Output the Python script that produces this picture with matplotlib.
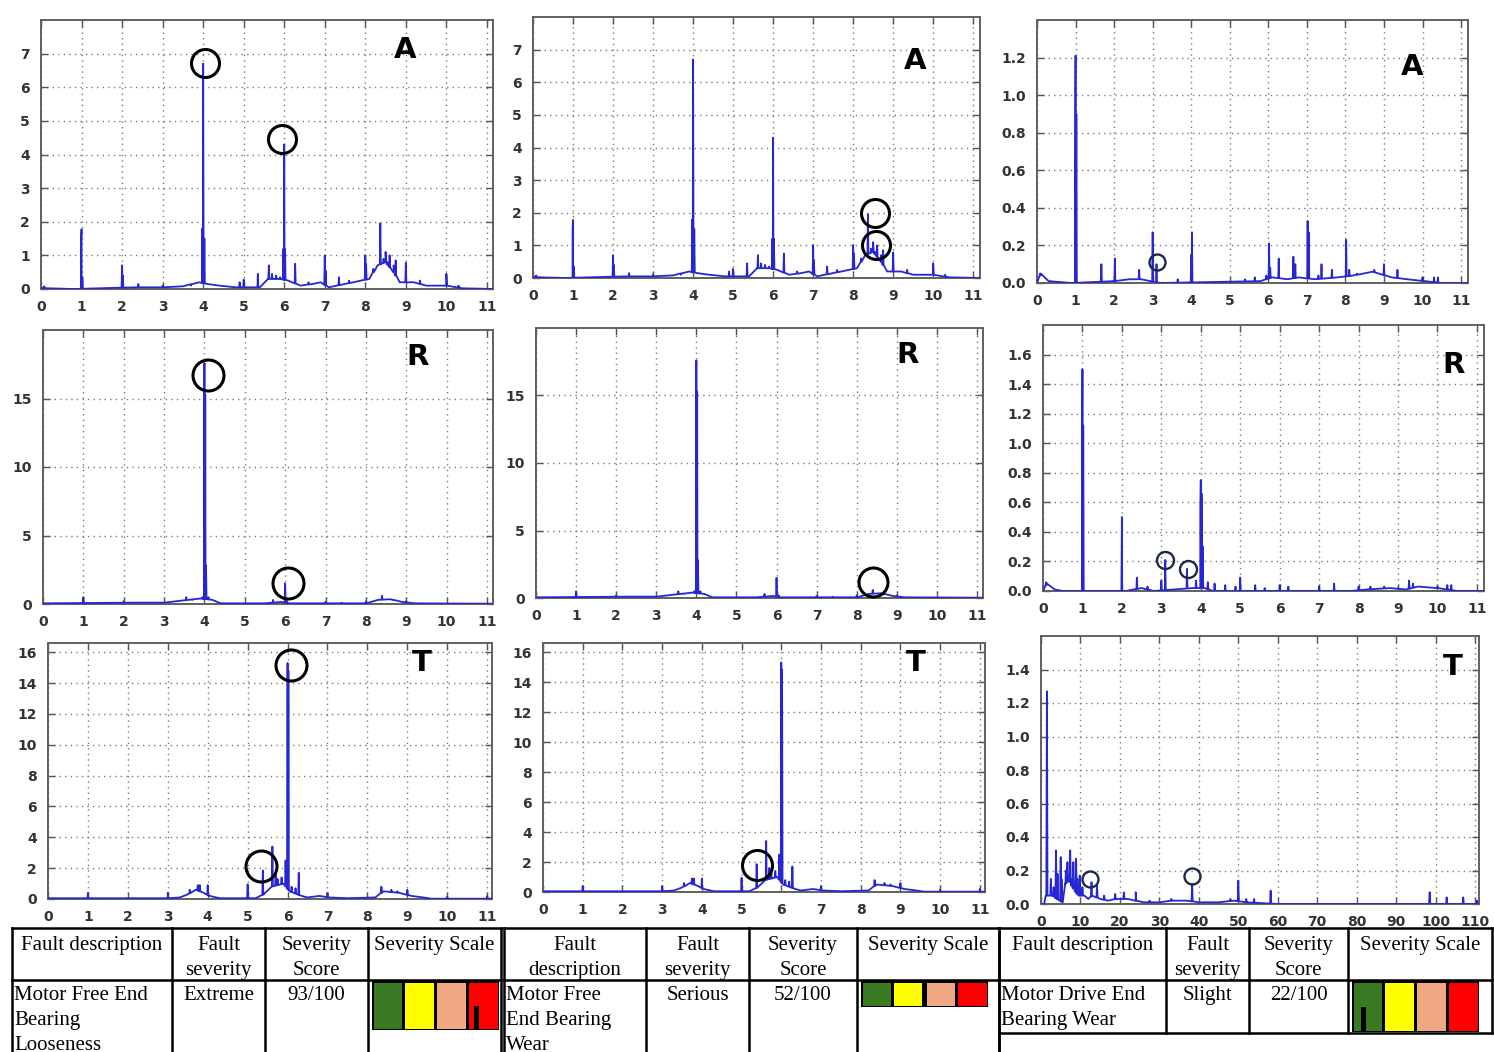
import matplotlib
matplotlib.use("Agg")
import matplotlib.pyplot as plt
import numpy as np
from matplotlib.patches import Rectangle

W, H = 1494, 1052

# ---------------------------------------------------------------
# Spectra (x = order of running speed, y = amplitude)
# peaks: discrete lines, floor: broadband level between lines

# Motor free end, axial (panels A, col 1 and 2)
fe_ax_peak_f = [0.08, 0.99, 1.0, 1.02, 2.0, 2.02, 2.4, 3.0, 3.7, 3.98, 4.0, 4.03,
                4.9, 5.0, 5.35, 5.62, 5.7, 5.8, 5.9, 5.98, 6.0, 6.02, 6.27, 6.6,
                7.0, 7.02, 7.35, 7.6, 8.0, 8.02, 8.2, 8.37, 8.45, 8.5, 8.55, 8.6,
                8.7, 8.75, 9.0, 9.35, 10.0, 10.3]
fe_ax_peak_a = [0.08, 1.5, 1.78, 0.35, 0.7, 0.4, 0.15, 0.1, 0.1, 1.8, 6.7, 1.5,
                0.2, 0.28, 0.45, 0.7, 0.45, 0.4, 0.35, 1.2, 4.3, 1.2, 0.75, 0.2,
                1.0, 0.55, 0.35, 0.25, 1.0, 0.75, 0.6, 1.95, 0.9, 1.1, 0.8, 1.0,
                0.7, 0.85, 0.78, 0.25, 0.45, 0.1]
fe_ax_floor_f = [0.0, 0.2, 0.8, 2.3, 3.0, 3.5, 3.9, 4.1, 4.4, 4.8, 5.4, 5.6, 5.9,
                 6.1, 6.4, 6.7, 6.9, 7.1, 7.5, 7.9, 8.1, 8.3, 8.5, 8.7, 8.85,
                 9.2, 9.5, 10.0, 10.4, 11.2]
fe_ax_floor_a = [0.03, 0.02, 0.0, 0.05, 0.05, 0.08, 0.2, 0.15, 0.1, 0.05, 0.05,
                 0.3, 0.3, 0.25, 0.1, 0.15, 0.2, 0.05, 0.15, 0.25, 0.3, 0.7, 0.8,
                 0.5, 0.2, 0.2, 0.1, 0.1, 0.02, 0.0]

# Motor free end, radial
fe_rad_peak_f = [1.0, 2.0, 3.0, 3.55, 3.7, 3.85, 3.95, 3.99, 4.0, 4.02, 4.04, 4.1,
                 5.7, 6.0, 6.05, 7.0, 7.4, 8.0, 8.4, 8.7, 9.0]
fe_rad_peak_a = [0.5, 0.2, 0.1, 0.5, 0.3, 0.4, 0.5, 4.2, 17.6, 15.3, 2.8, 0.5,
                 0.3, 1.5, 0.2, 0.15, 0.1, 0.2, 0.6, 0.3, 0.2]
fe_rad_floor_f = [0.0, 2.3, 3.0, 3.3, 3.9, 4.2, 4.4, 5.5, 5.9, 6.1, 8.0, 8.3,
                  8.6, 8.9, 9.2, 11.2]
fe_rad_floor_a = [0.05, 0.1, 0.1, 0.2, 0.4, 0.3, 0.05, 0.05, 0.15, 0.05, 0.05,
                  0.3, 0.35, 0.15, 0.05, 0.02]

# Motor free end, tangential
fe_tan_peak_f = [1.0, 3.0, 3.55, 3.75, 3.8, 4.0, 5.0, 5.38, 5.62, 5.7, 5.75, 5.85,
                 5.95, 6.0, 6.02, 6.1, 6.2, 6.28, 7.0, 8.35, 8.6, 8.75, 9.0,
                 10.0, 11.0]
fe_tan_peak_a = [0.4, 0.4, 0.6, 0.9, 0.9, 0.9, 0.95, 1.85, 3.4, 1.6, 1.3, 1.4,
                 2.5, 15.3, 14.8, 0.8, 0.7, 1.7, 0.4, 0.8, 0.6, 0.5, 0.6,
                 0.15, 0.2]
fe_tan_floor_f = [0.0, 3.0, 3.3, 3.5, 3.7, 3.9, 4.05, 4.3, 5.2, 5.4, 5.6, 5.9,
                  6.05, 6.35, 6.5, 6.8, 7.05, 7.5, 8.2, 8.4, 8.8, 9.1, 9.4,
                  9.6, 11.2]
fe_tan_floor_a = [0.05, 0.05, 0.1, 0.3, 0.6, 0.4, 0.2, 0.05, 0.05, 0.3, 0.8,
                  1.0, 0.5, 0.2, 0.1, 0.2, 0.1, 0.05, 0.1, 0.5, 0.4, 0.2, 0.1,
                  0.02, 0.02]

# Motor drive end, axial
de_ax_peak_f = [0.08, 0.99, 1.0, 1.02, 1.67, 2.02, 2.65, 3.0, 3.1, 3.65, 4.0,
                4.02, 5.4, 5.65, 5.95, 6.02, 6.05, 6.27, 6.65, 6.7, 7.02, 7.05,
                7.3, 7.38, 7.65, 8.02, 8.1, 8.3, 8.75, 9.0, 9.35, 10.0, 10.3, 10.4]
de_ax_peak_a = [0.05, 0.48, 1.21, 0.9, 0.1, 0.13, 0.07, 0.27, 0.1, 0.02, 0.15,
                0.27, 0.02, 0.03, 0.04, 0.21, 0.08, 0.13, 0.14, 0.1, 0.33, 0.27,
                0.04, 0.1, 0.07, 0.23, 0.07, 0.05, 0.07, 0.1, 0.07, 0.03, 0.03, 0.03]
de_ax_floor_f = [0.0, 0.1, 0.3, 0.9, 2.0, 2.4, 2.7, 3.2, 5.8, 6.1, 6.5, 6.8,
                 7.2, 7.8, 8.2, 8.7, 9.2, 9.6, 10.5, 11.2]
de_ax_floor_a = [0.0, 0.05, 0.01, 0.0, 0.01, 0.02, 0.02, 0.0, 0.01, 0.03, 0.02,
                 0.03, 0.02, 0.03, 0.04, 0.06, 0.03, 0.02, 0.0, 0.0]

# Motor drive end, radial
de_rad_peak_f = [0.08, 0.99, 1.0, 1.02, 1.99, 2.0, 2.38, 2.65, 3.0, 3.1, 3.65,
                 3.88, 3.99, 4.0, 4.02, 4.05, 4.18, 4.35, 4.62, 4.88, 5.0, 5.38,
                 5.62, 6.0, 6.22, 7.0, 7.38, 8.0, 8.3, 8.65, 9.0, 9.28, 9.38,
                 10.0, 10.25, 10.35]
de_rad_peak_a = [0.06, 0.47, 1.5, 1.12, 0.09, 0.5, 0.09, 0.03, 0.07, 0.21, 0.15,
                 0.07, 0.55, 0.75, 0.66, 0.3, 0.06, 0.05, 0.04, 0.03, 0.09, 0.04,
                 0.02, 0.04, 0.03, 0.03, 0.05, 0.03, 0.03, 0.03, 0.02, 0.07, 0.05,
                 0.03, 0.04, 0.04]
de_rad_floor_f = [0.0, 0.1, 0.3, 0.5, 2.1, 2.5, 2.8, 3.8, 4.1, 4.3, 7.8, 8.2,
                  8.8, 9.2, 9.5, 10.0, 10.5, 11.2]
de_rad_floor_a = [0.0, 0.05, 0.01, 0.0, 0.0, 0.02, 0.0, 0.02, 0.02, 0.0, 0.0,
                  0.01, 0.02, 0.01, 0.03, 0.02, 0.0, 0.0]

# Motor drive end, tangential (x in Hz-like scale 0..110)
de_tan_peak_f = [1.5, 2.5, 3.2, 3.8, 4.2, 5.0, 5.2, 6.3, 6.7, 7.4, 7.8, 8.2, 8.9,
                 9.2, 9.8, 10.5, 12.8, 14.2, 16.0, 18.8, 21.0, 24.0, 27.5, 33.0,
                 36.0, 38.3, 48.0, 50.0, 52.0, 54.0, 58.2, 98.5, 102.8, 107.0,
                 110.5]
de_tan_peak_a = [1.27, 0.15, 0.1, 0.32, 0.18, 0.28, 0.15, 0.2, 0.25, 0.32, 0.15,
                 0.25, 0.27, 0.15, 0.17, 0.1, 0.13, 0.11, 0.05, 0.06, 0.07, 0.07,
                 0.02, 0.03, 0.02, 0.12, 0.03, 0.14, 0.03, 0.03, 0.08, 0.07,
                 0.04, 0.04, 0.02]
de_tan_floor_f = [0.0, 0.8, 1.2, 2.0, 3.0, 4.0, 5.5, 6.2, 7.0, 8.0, 9.5, 11.0,
                  12.0, 13.0, 15.0, 17.0, 19.0, 22.0, 24.0, 26.0, 30.0, 33.0,
                  37.0, 40.0, 45.0, 49.0, 52.0, 60.0, 112.0]
de_tan_floor_a = [0.0, 0.0, 0.05, 0.05, 0.05, 0.03, 0.01, 0.12, 0.15, 0.1, 0.05,
                  0.05, 0.03, 0.05, 0.03, 0.02, 0.03, 0.03, 0.02, 0.01, 0.01,
                  0.02, 0.02, 0.01, 0.01, 0.02, 0.01, 0.0, 0.0]

# annotation circles (x, y) per panel
circles_p1 = [(4.05, 6.73), (5.95, 4.46)]
circles_p2 = [(8.55, 2.0), (8.57, 1.01)]
circles_p3 = [(3.11, 0.11)]
circles_p4 = [(4.09, 16.7), (6.07, 1.54)]
circles_p5 = [(8.41, 1.19)]
circles_p6 = [(3.09, 0.21), (3.68, 0.15)]
circles_p7 = [(6.09, 15.2), (5.34, 2.14)]
circles_p8 = [(5.39, 1.8)]
circles_p9 = [(12.4, 0.15), (38.3, 0.17)]

# table contents
tbl_headers = [
    ["Fault description", "Fault\nseverity", "Severity\nScore", "Severity Scale"],
    ["Fault\ndescription", "Fault\nseverity", "Severity\nScore", "Severity Scale"],
    ["Fault description", "Fault\nseverity", "Severity\nScore", "Severity Scale"],
]
fault_desc = ["Motor Free End\nBearing\nLooseness",
              "Motor Free\nEnd Bearing\nWear",
              "Motor Drive End\nBearing Wear"]
fault_sev = ["Extreme", "Serious", "Slight"]
sev_score = ["93/100", "52/100", "22/100"]
scale_colors = ["#3a7a22", "#ffff00", "#f0a882", "#ff0000"]
marker_pos = [0.82, 0.5, 0.09]   # marker position


def spectrum(floor_f, floor_a, peak_f, peak_a, hw):
    xs = list(floor_f)
    ys = list(floor_a)
    for f, a in zip(peak_f, peak_a):
        base = float(np.interp(f, floor_f, floor_a))
        xs += [f - hw, f, f + hw]
        ys += [base, a, base]
    order = np.argsort(xs, kind="stable")
    return np.asarray(xs)[order], np.asarray(ys)[order]


spec_fe_ax = spectrum(fe_ax_floor_f, fe_ax_floor_a, fe_ax_peak_f, fe_ax_peak_a, 0.012)
spec_fe_rad = spectrum(fe_rad_floor_f, fe_rad_floor_a, fe_rad_peak_f, fe_rad_peak_a, 0.012)
spec_fe_tan = spectrum(fe_tan_floor_f, fe_tan_floor_a, fe_tan_peak_f, fe_tan_peak_a, 0.012)
spec_de_ax = spectrum(de_ax_floor_f, de_ax_floor_a, de_ax_peak_f, de_ax_peak_a, 0.012)
spec_de_rad = spectrum(de_rad_floor_f, de_rad_floor_a, de_rad_peak_f, de_rad_peak_a, 0.012)
spec_de_tan = spectrum(de_tan_floor_f, de_tan_floor_a, de_tan_peak_f, de_tan_peak_a, 0.15)

orders = np.arange(0, 12)

# (frame px: left, top, right, bottom), spectrum, xlim, ylim, yticks, yfmt,
# letter, letter pos (axes frac), circles, circle size px, circle colour
panels = [
    ((41, 20, 493, 289), spec_fe_ax, 11.15, 8.0, np.arange(0, 8), "%d",
     "A", (0.805, 0.89), circles_p1, 28, "black"),
    ((533, 17, 980, 278), spec_fe_ax, 11.17, 8.0, np.arange(0, 8), "%d",
     "A", (0.855, 0.83), circles_p2, 28, "black"),
    ((1037, 20, 1468, 283), spec_de_ax, 11.18, 1.4, np.arange(0, 7) * 0.2, "%.1f",
     "A", (0.87, 0.82), circles_p3, 16, "#1c2a4a"),
    ((43, 330, 493, 604), spec_fe_rad, 11.15, 20.0, np.arange(0, 4) * 5, "%d",
     "R", (0.833, 0.90), circles_p4, 31, "black"),
    ((536, 328, 983, 598), spec_fe_rad, 11.15, 20.0, np.arange(0, 4) * 5, "%d",
     "R", (0.832, 0.90), circles_p5, 29, "black"),
    ((1043, 325, 1484, 591), spec_de_rad, 11.18, 1.8, np.arange(0, 9) * 0.2, "%.1f",
     "R", (0.93, 0.85), circles_p6, 17, "#1c2a4a"),
    ((48, 643, 492, 899), spec_fe_tan, 11.12, 16.6, np.arange(0, 9) * 2, "%d",
     "T", (0.842, 0.92), circles_p7, 31, "black"),
    ((543, 643, 985, 892), spec_fe_tan, 11.13, 16.6, np.arange(0, 9) * 2, "%d",
     "T", (0.844, 0.92), circles_p8, 30, "black"),
    ((1041, 636, 1479, 904), spec_de_tan, 111.0, 1.6, np.arange(0, 8) * 0.2, "%.1f",
     "T", (0.94, 0.885), circles_p9, 16, "#1c2a4a"),
]

fig = plt.figure(figsize=(W / 100, H / 100), dpi=100)
fig.patch.set_facecolor("white")

for i, (box, spec, xmax, ymax, yticks, yfmt, letter, lpos, circ, csize, ccol) in enumerate(panels):
    l, t, r, b = box
    ax = fig.add_axes([l / W, 1 - b / H, (r - l) / W, (b - t) / H])
    ax.plot(spec[0], spec[1], color="#2626d2", lw=1.3, zorder=3)
    ax.set_xlim(0, xmax)
    ax.set_ylim(0, ymax)
    xt = orders * 10 if i == 8 else orders
    ax.set_xticks(xt)
    ax.set_yticks(yticks)
    ax.set_xticklabels([str(v) for v in xt])
    ax.set_yticklabels([yfmt % v for v in yticks])
    ax.grid(True, color="#7a7a7a", linestyle=(0, (1, 3)), lw=1.0)
    ax.tick_params(direction="in", length=5, width=1, color="#555555",
                   top=True, right=True, labelsize=10, labelcolor="#333333")
    ax.tick_params(axis="x", pad=8)
    ax.tick_params(axis="y", pad=8)
    for lab in ax.get_xticklabels() + ax.get_yticklabels():
        lab.set_fontweight("bold")
    for sp in ax.spines.values():
        sp.set_color("#606060")
        sp.set_linewidth(1.4)
    ax.text(lpos[0], lpos[1], letter, transform=ax.transAxes, fontsize=21,
            fontweight="bold", ha="center", va="center", color="black", zorder=5)
    for cx, cy in circ:
        ax.plot(cx, cy, "o", ms=csize * 0.72, mfc="none", mec=ccol,
                mew=2.2 if csize > 20 else 1.7, zorder=6, clip_on=False)

# -------------------- bottom tables --------------------
tab = fig.add_axes([0, 0, 1, 1], zorder=10)
tab.set_xlim(0, W)
tab.set_ylim(H, 0)
tab.axis("off")
tab.patch.set_alpha(0)

cols = [[12, 172, 265, 368, 501], [504, 646, 749, 857, 999], [999, 1166, 1249, 1348, 1492]]
top_y, mid_y = 928, 980
bottoms = [H, H, 1033]
scale_h = [49, 26, 51]
lw_tab = 1.8
serif = "Liberation Serif"
fs = 15
ls = 1.42

for k in range(3):
    c = cols[k]
    tab.plot([c[0], c[-1]], [top_y, top_y], color="black", lw=lw_tab)
    tab.plot([c[0], c[-1]], [mid_y, mid_y], color="black", lw=lw_tab)
    for x in c:
        tab.plot([x, x], [top_y, bottoms[k]], color="black", lw=lw_tab)
    if bottoms[k] < H:
        tab.plot([c[0], c[-1]], [bottoms[k], bottoms[k]], color="black", lw=lw_tab)
        tab.plot([c[0], c[0]], [bottoms[k], H], color="black", lw=lw_tab)
    for j, txt in enumerate(tbl_headers[k]):
        tab.text((c[j] + c[j + 1]) / 2, top_y + 8, txt, ha="center", va="top",
                 fontsize=fs, family=serif, linespacing=ls)
    tab.text(c[0] + 2, mid_y + 6, fault_desc[k], ha="left", va="top",
             fontsize=fs, family=serif, linespacing=ls)
    tab.text((c[1] + c[2]) / 2, mid_y + 6, fault_sev[k], ha="center", va="top",
             fontsize=fs, family=serif)
    tab.text((c[2] + c[3]) / 2, mid_y + 6, sev_score[k], ha="center", va="top",
             fontsize=fs, family=serif)

    # severity scale bar
    sx0 = c[3] + 4
    sw = 127
    sh = scale_h[k]
    sy0 = mid_y + 1
    cw = sw / len(scale_colors)
    tab.add_patch(Rectangle((sx0, sy0), sw, sh, facecolor="black", edgecolor="none"))
    for m, col in enumerate(scale_colors):
        tab.add_patch(Rectangle((sx0 + m * cw + 1.5, sy0 + 1.5), cw - 3, sh - 3,
                                facecolor=col, edgecolor="none"))
    mx = sx0 + marker_pos[k] * sw
    if k == 1:
        tab.add_patch(Rectangle((mx - 2.5, sy0), 5, sh, facecolor="black"))
    else:
        tab.add_patch(Rectangle((mx - 2.5, sy0 + sh / 2), 5, sh / 2, facecolor="black"))

fig.savefig("out.png", dpi=100, facecolor="white")
